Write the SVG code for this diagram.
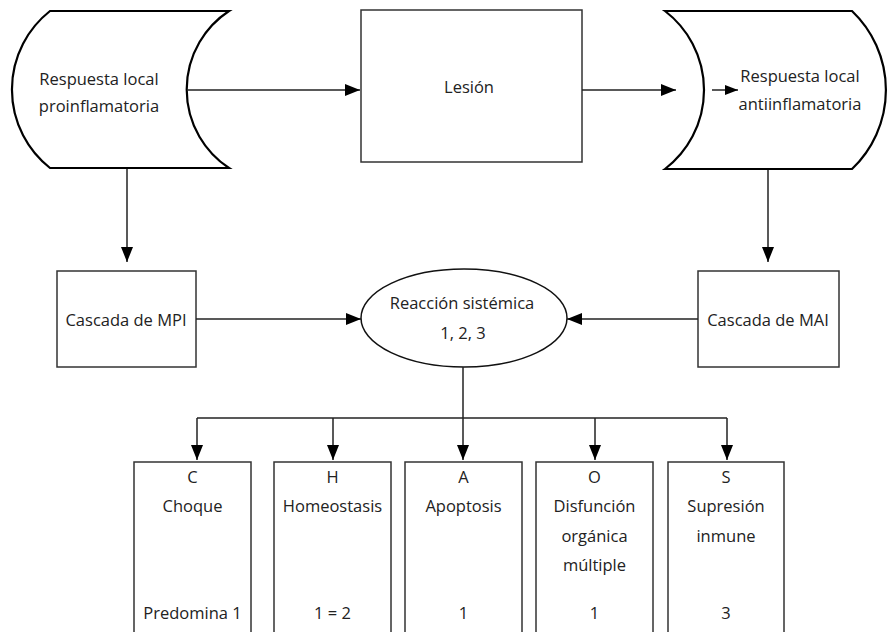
<svg xmlns="http://www.w3.org/2000/svg" width="887" height="632" viewBox="0 0 887 632">
  <style>
    text { font-family: "Open Sans", "Noto Sans", "DejaVu Sans", sans-serif; font-size: 16.5px; fill: #222; text-anchor: middle; }
    .box { fill: #fff; stroke: #333; stroke-width: 1.5; }
    .curve { fill: #fff; stroke: #000; stroke-width: 2.2; stroke-linejoin: miter; }
    .ell { fill: #fff; stroke: #111; stroke-width: 1.5; }
    .con { fill: none; stroke: #222; stroke-width: 1.5; }
  </style>
  <defs>
    <marker id="ah" viewBox="0 0 15 12" refX="15" refY="6" markerWidth="15" markerHeight="12" markerUnits="userSpaceOnUse" orient="auto">
      <path d="M0,0 L15,6 L0,12 Z" fill="#000"/>
    </marker>
    <marker id="ahs" viewBox="0 0 13 10" refX="13" refY="5" markerWidth="13" markerHeight="10" markerUnits="userSpaceOnUse" orient="auto">
      <path d="M0,0 L13,5 L0,10 Z" fill="#000"/>
    </marker>
  </defs>

  <g id="respuesta-pro">
    <path class="curve" d="M50,11 L229,11 A94,94 0 0 0 229,168 L50,168 A100,100 0 0 1 50,11 Z"/>
    <text x="99" y="85">Respuesta local</text>
    <text x="99" y="112">proinflamatoria</text>
  </g>

  <g id="lesion">
    <rect class="box" x="361" y="10" width="221" height="152"/>
    <text x="469" y="93">Lesión</text>
  </g>

  <g id="respuesta-anti">
    <path class="curve" d="M665,11 L852,11 A109,109 0 0 1 852,169 L665,169 A99.5,99.5 0 0 0 665,11 Z"/>
    <text x="800" y="82">Respuesta local</text>
    <text x="800" y="110">antiinflamatoria</text>
  </g>

  <g id="cascada-mpi">
    <rect class="box" x="57" y="271" width="139" height="96"/>
    <text x="126" y="326">Cascada de MPI</text>
  </g>

  <g id="reaccion">
    <ellipse class="ell" cx="464" cy="318" rx="103" ry="49"/>
    <text x="462" y="309">Reacción sistémica</text>
    <text x="463" y="339">1, 2, 3</text>
  </g>

  <g id="cascada-mai">
    <rect class="box" x="698" y="271" width="141" height="96"/>
    <text x="768" y="326">Cascada de MAI</text>
  </g>

  <g id="choque">
    <rect class="box" x="134" y="462" width="117" height="180"/>
    <text x="192.5" y="483">C</text>
    <text x="192.5" y="512">Choque</text>
    <text x="192.5" y="619">Predomina 1</text>
  </g>

  <g id="homeostasis">
    <rect class="box" x="274" y="462" width="117" height="180"/>
    <text x="332.5" y="483">H</text>
    <text x="332.5" y="512">Homeostasis</text>
    <text x="332.5" y="619">1 = 2</text>
  </g>

  <g id="apoptosis">
    <rect class="box" x="405" y="462" width="117" height="180"/>
    <text x="463.5" y="483">A</text>
    <text x="463.5" y="512">Apoptosis</text>
    <text x="463.5" y="619">1</text>
  </g>

  <g id="disfuncion">
    <rect class="box" x="536" y="462" width="117" height="180"/>
    <text x="594.5" y="483">O</text>
    <text x="594.5" y="512">Disfunción</text>
    <text x="594.5" y="542">orgánica</text>
    <text x="594.5" y="571">múltiple</text>
    <text x="594.5" y="619">1</text>
  </g>

  <g id="supresion">
    <rect class="box" x="668" y="462" width="116" height="180"/>
    <text x="726" y="483">S</text>
    <text x="726" y="512">Supresión</text>
    <text x="726" y="542">inmune</text>
    <text x="726" y="619">3</text>
  </g>

  <g id="connectors">
    <line class="con" x1="187" y1="90" x2="360" y2="90" marker-end="url(#ah)"/>
    <line class="con" x1="582" y1="90" x2="676" y2="90" marker-end="url(#ah)"/>
    <line class="con" x1="712" y1="90" x2="738" y2="90" marker-end="url(#ahs)"/>
    <line class="con" x1="127" y1="169" x2="127" y2="262" marker-end="url(#ah)"/>
    <line class="con" x1="768" y1="170" x2="768" y2="262" marker-end="url(#ah)"/>
    <line class="con" x1="196" y1="319" x2="361" y2="319" marker-end="url(#ah)"/>
    <line class="con" x1="698" y1="319" x2="567" y2="319" marker-end="url(#ah)"/>
    <line class="con" x1="463" y1="367" x2="463" y2="418"/>
    <line class="con" x1="197" y1="418" x2="727" y2="418"/>
    <line class="con" x1="197" y1="418" x2="197" y2="460" marker-end="url(#ah)"/>
    <line class="con" x1="333" y1="418" x2="333" y2="460" marker-end="url(#ah)"/>
    <line class="con" x1="463" y1="418" x2="463" y2="460" marker-end="url(#ah)"/>
    <line class="con" x1="595" y1="418" x2="595" y2="460" marker-end="url(#ah)"/>
    <line class="con" x1="727" y1="418" x2="727" y2="460" marker-end="url(#ah)"/>
  </g>
</svg>
